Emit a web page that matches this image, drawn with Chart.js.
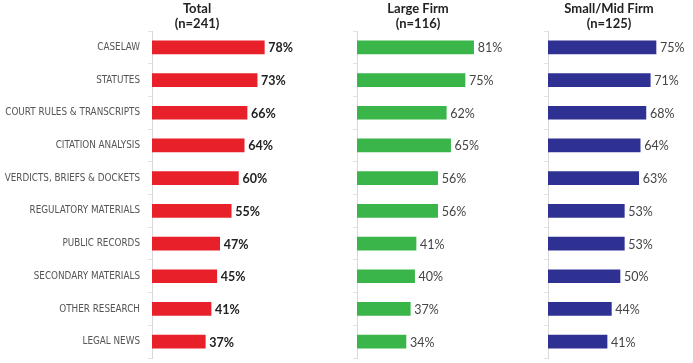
<!DOCTYPE html>
<html>
<head>
<meta charset="utf-8">
<script src="https://cdn.jsdelivr.net/npm/chart.js@4.4.1/dist/chart.umd.min.js"></script>
<style>
  body { margin: 0; background: #fff; }
  .wrap { position: relative; width: 693px; height: 363px; }
  .wrap canvas { position: absolute; top: 0; }
</style>
</head>
<body>
<div class="wrap">
  <canvas id="total" style="left:0px" width="330" height="363"></canvas>
  <canvas id="large" style="left:330px" width="190" height="363"></canvas>
  <canvas id="small" style="left:520px" width="173" height="363"></canvas>
</div>
<script>
const categories = ["CASELAW", "STATUTES", "COURT RULES & TRANSCRIPTS", "CITATION ANALYSIS", "VERDICTS, BRIEFS & DOCKETS",
  "REGULATORY MATERIALS", "PUBLIC RECORDS", "SECONDARY MATERIALS", "OTHER RESEARCH", "LEGAL NEWS"];
const totalValues = [78, 73, 66, 64, 60, 55, 47, 45, 41, 37];
const largeValues = [81, 75, 62, 65, 56, 56, 41, 40, 37, 34];
const smallValues = [75, 71, 68, 64, 63, 53, 53, 50, 44, 41];
const panelTitles = [["Total", "(n=241)"], ["Large Firm", "(n=116)"], ["Small/Mid Firm", "(n=125)"]];

const FONT = "Lato, 'Open Sans', sans-serif";
const NARROW = "'Liberation Sans Narrow', 'Arial Narrow', 'DejaVu Sans Condensed', sans-serif";

// writes the percentage just after the end of each bar
const valueLabels = {
  id: 'valueLabels',
  afterDatasetsDraw(chart, args, opts) {
    const ctx = chart.ctx;
    const meta = chart.getDatasetMeta(0);
    ctx.save();
    ctx.font = opts.font;
    ctx.fillStyle = opts.color;
    ctx.textBaseline = 'middle';
    ctx.textAlign = 'left';
    meta.data.forEach((bar, i) => {
      ctx.fillText(chart.data.datasets[0].data[i] + '%', bar.x + 4, bar.y + 1);
    });
    ctx.restore();
  }
};

// two-line bold heading over each panel
const panelTitle = {
  id: 'panelTitle',
  afterDraw(chart, args, opts) {
    const ctx = chart.ctx;
    ctx.save();
    ctx.font = "bold 13px " + FONT;
    ctx.fillStyle = '#222';
    ctx.textAlign = 'center';
    ctx.textBaseline = 'middle';
    const x = chart.chartArea.left + opts.offset;
    opts.lines.forEach((t, i) => ctx.fillText(t, x, 9 + i * 15));
    ctx.restore();
  }
};

function makePanel(id, values, color, axisWidth, padRight, showLabels, title, titleOffset, labelFont, labelColor) {
  new Chart(document.getElementById(id), {
    type: 'bar',
    data: {
      labels: categories,
      datasets: [{
        data: values,
        backgroundColor: color,
        barThickness: 13,
        borderWidth: 0
      }]
    },
    options: {
      indexAxis: 'y',
      responsive: false,
      animation: false,
      layout: { padding: { top: 31, bottom: 5, left: 0, right: padRight } },
      plugins: {
        legend: { display: false },
        tooltip: { enabled: false },
        valueLabels: { font: labelFont, color: labelColor },
        panelTitle: { lines: title, offset: titleOffset }
      },
      scales: {
        x: { display: false, min: 0, max: 100 },
        y: {
          afterFit(scale) {
            scale.width = axisWidth;
            scale.paddingTop = 0;
            scale.paddingBottom = 0;
          },
          border: { display: true, color: '#d9d9d9' },
          grid: { offset: true, drawOnChartArea: false, tickLength: 4, color: '#e3e3e3' },
          ticks: {
            display: showLabels,
            autoSkip: false,
            padding: 8,
            color: '#555',
            font: { family: NARROW, size: 9.8 }
          }
        }
      }
    },
    plugins: [valueLabels, panelTitle]
  });
}

makePanel('total', totalValues, '#e8202a', 152, 34, true, panelTitles[0], 45, "bold 12.5px " + FONT, '#222');
makePanel('large', largeValues, '#3ab54a', 27, 19, false, panelTitles[1], 61, "12.5px " + FONT, '#444');
makePanel('small', smallValues, '#2e3192', 28, 1, false, panelTitles[2], 61, "12.5px " + FONT, '#444');
</script>
</body>
</html>
